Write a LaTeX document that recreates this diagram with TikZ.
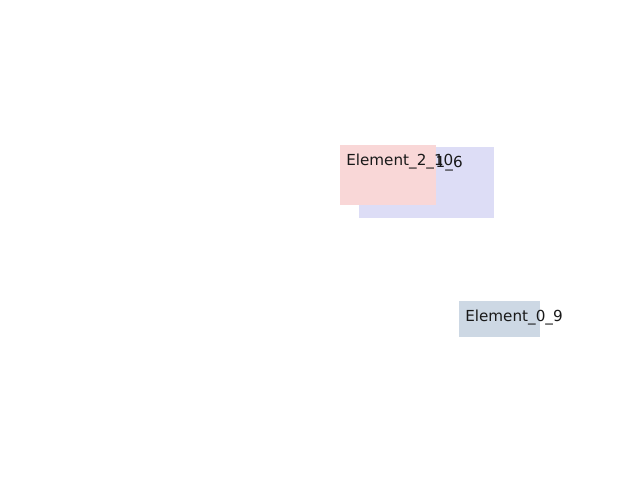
\documentclass[tikz,border=0pt]{standalone}
\usepackage{fontspec}
\setmainfont{DejaVu Sans}
\usepackage{tikz}
\usetikzlibrary{positioning}
\definecolor{pinkfill}{RGB}{249,215,215}
\definecolor{lavfill}{RGB}{221,221,246}
\definecolor{slatefill}{RGB}{205,216,228}
\tikzset{
  elbox/.style={inner sep=0pt, outer sep=0pt, anchor=north west},
  ellabel/.style={inner sep=0pt, anchor=base west, font=\fontsize{10.8}{13}\selectfont, text=black!90}
}

\begin{document}
\begin{tikzpicture}[x=0.025cm, y=-0.025cm]
    \useasboundingbox (0,0) rectangle (640,480);

    % Element 1 (behind)
    \node[elbox, fill=lavfill, minimum width=3.375cm, minimum height=1.775cm] (el16) at (359,147) {};
    \node[ellabel] (el16text) at ([shift={(6,20)}]el16.north west) {Element\_1\_6};

    % Element 2
    \node[elbox, fill=pinkfill, minimum width=2.4cm, minimum height=1.5cm] (el210) at (340,145) {};
    \node[ellabel] (el210text) at ([shift={(6,20)}]el210.north west) {Element\_2\_10};

    % Element 0
    \node[elbox, fill=slatefill, minimum width=2.025cm, minimum height=0.9cm] (el09) at (459,301) {};
    \node[ellabel] (el09text) at ([shift={(6,20)}]el09.north west) {Element\_0\_9};
\end{tikzpicture}
\end{document}
